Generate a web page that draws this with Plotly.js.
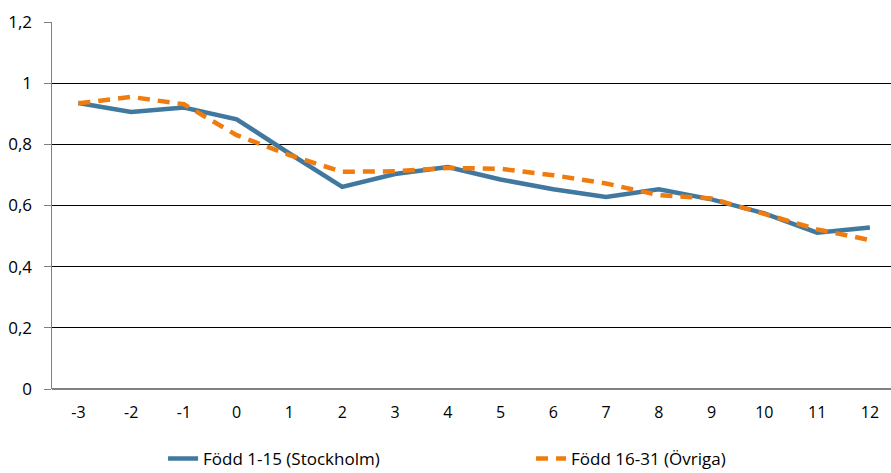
<!DOCTYPE html>
<html>
<head>
<meta charset="utf-8">
<script src="https://cdn.plot.ly/plotly-3.0.1.min.js"></script>
<style>html,body{margin:0;padding:0;background:#fff;}#chart{width:891px;height:473px;}</style>
</head>
<body>
<div id="chart"></div>
<script>
const categories = ["-3","-2","-1","0","1","2","3","4","5","6","7","8","9","10","11","12"];
const stockholm = [0.935,0.906,0.92,0.882,0.77,0.661,0.703,0.726,0.685,0.653,0.628,0.653,0.62,0.574,0.511,0.528];
const ovriga = [0.934,0.955,0.931,0.83,0.765,0.71,0.712,0.723,0.72,0.699,0.672,0.634,0.623,0.572,0.522,0.487];
const seriesNames = ["Född 1-15 (Stockholm)","Född 16-31 (Övriga)"];
const yTicks = [0,0.2,0.4,0.6,0.8,1,1.2];

const traces = [
  {x: categories, y: stockholm, name: seriesNames[0], type: 'scatter', mode: 'lines',
   line: {color: '#41789F', width: 4.5}},
  {x: categories, y: ovriga, name: seriesNames[1], type: 'scatter', mode: 'lines',
   line: {color: '#F07C0E', width: 4.5, dash: '12px,8px'}}
];

const layout = {
  width: 891, height: 473,
  margin: {l: 52, r: 0, t: 22, b: 84},
  paper_bgcolor: '#fff', plot_bgcolor: '#fff',
  separators: ', ',
  font: {family: '"Open Sans", sans-serif', size: 16, color: '#000'},
  showlegend: true,
  legend: {orientation: 'h', xref: 'container', yref: 'container', x: 0.183, xanchor: 'left',
           y: 0.068, yanchor: 'top', entrywidth: 323, entrywidthmode: 'pixels',
           font: {size: 17}},
  xaxis: {type: 'category', range: [-0.5, 15.4], showgrid: false, zeroline: false,
          showline: false, ticks: '', tickfont: {size: 16}, ticklabelstandoff: 12, fixedrange: true},
  yaxis: {range: [0, 1.2], tickvals: yTicks, showgrid: true, gridcolor: '#000', gridwidth: 1,
          zeroline: true, zerolinecolor: '#808080', zerolinewidth: 2,
          showline: true, linecolor: '#808080', linewidth: 1.5,
          ticks: 'outside', ticklen: 7, tickcolor: '#808080', tickfont: {size: 17},
          ticklabelstandoff: 8}
};

Plotly.newPlot('chart', traces, layout, {displayModeBar: false, staticPlot: true});
</script>
</body>
</html>
